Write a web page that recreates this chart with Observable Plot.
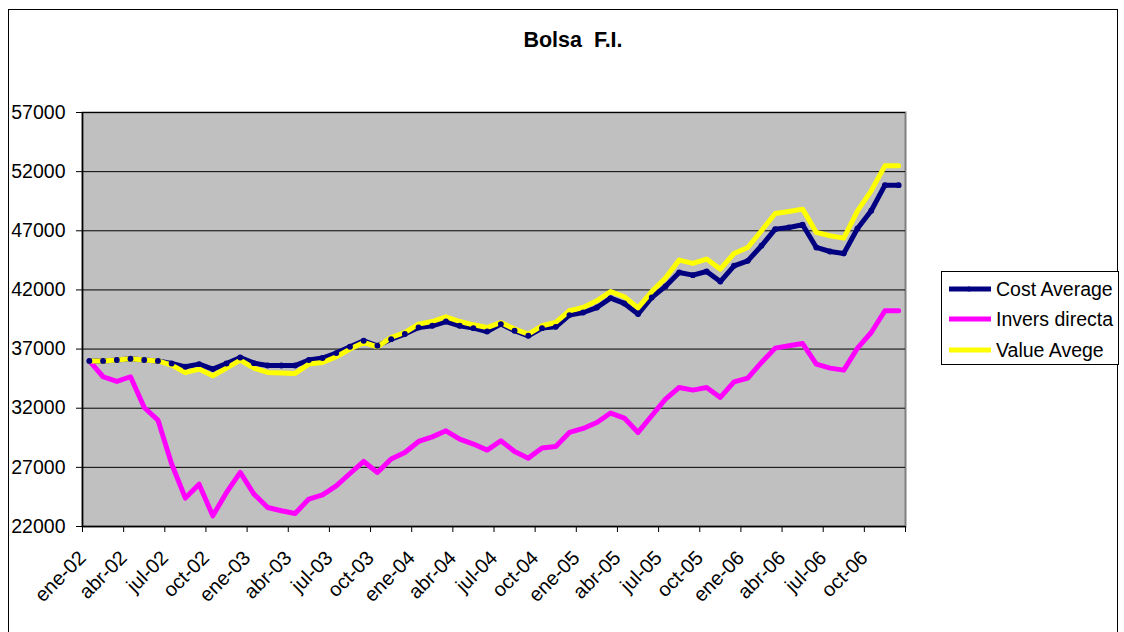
<!DOCTYPE html>
<html>
<head>
<meta charset="utf-8">
<script src="https://cdn.jsdelivr.net/npm/d3@7"></script>
<script src="https://cdn.jsdelivr.net/npm/@observablehq/plot@0.6"></script>
<style>
  html, body { margin: 0; padding: 0; background: #fff; overflow: hidden; }
  body { width: 1124px; height: 632px; position: relative; font-family: "Liberation Sans", Arial, sans-serif; }
  #border { position: absolute; left: 8px; top: 9px; width: 1110px; height: 640px; border: 1px solid #000; box-sizing: border-box; }
  #title { position: absolute; left: 463px; width: 220px; top: 28px; text-align: center; font-weight: bold; font-size: 21.5px; white-space: pre; }
  #chart { position: absolute; left: 0; top: 0; }
  #legend { position: absolute; left: 941px; top: 271px; width: 178px; height: 94px; border: 1px solid #000; box-sizing: border-box; background: #fff; font-size: 19.5px; }
  .row { position: absolute; left: 5px; height: 24px; display: flex; align-items: center; white-space: nowrap; }
  .row svg { margin-right: 3px; }
</style>
</head>
<body>
<div id="border"></div>
<div id="chart"></div>
<div id="title">Bolsa  F.I.</div>
<div id="legend"></div>
<script>
const monthNames = ["ene","feb","mar","abr","may","jun","jul","ago","sep","oct","nov","dic"];
const years = ["02","03","04","05","06"];
const months = years.flatMap(y => monthNames.map(m => `${m}-${y}`));

const costAverage = [36000,36000,36070,36180,36070,36000,35780,35500,35730,35310,35780,36290,
  35810,35610,35610,35610,36070,36240,36660,37190,37700,37280,37840,38270,
  38820,38970,39330,38970,38770,38490,39110,38550,38120,38770,38880,39870,
  40090,40510,41310,40860,39960,41360,42300,43470,43250,43560,42710,44040,
  44460,45730,47140,47280,47510,45590,45250,45080,47190,48690,50860,50860];

const inversDirecta = [36000,34660,34260,34660,32060,31000,27280,24400,25580,22900,24880,26570,
  24740,23610,23330,23100,24320,24680,25440,26480,27500,26570,27700,28260,
  29190,29580,30090,29390,28970,28460,29250,28340,27780,28630,28760,29950,
  30290,30790,31590,31170,29950,31360,32770,33750,33530,33750,32910,34230,
  34550,35870,37080,37280,37470,35730,35390,35220,37080,38400,40240,40240];

const valueAvege = [36000,36000,36070,36180,36070,36000,35640,35020,35310,34740,35390,36070,
  35390,35020,34970,34940,35730,35870,36350,37000,37560,37190,37980,38400,
  39110,39330,39730,39330,39050,38820,39250,38690,38270,38970,39250,40240,
  40510,41080,41870,41420,40480,41860,43000,44520,44240,44610,43760,45080,
  45590,47000,48460,48630,48830,46860,46580,46380,48690,50380,52490,52490];

const yTicks = [22000,27000,32000,37000,42000,47000,52000,57000];

const seriesNames = ["Cost Average","Invers directa","Value Avege"];
const seriesColors = ["#000080","#FF00FF","#FFFF00"];

const rows = (vals) => vals.map((v, i) => ({i, v}));
const cost = rows(costAverage), inv = rows(inversDirecta), val = rows(valueAvege);
const n = months.length;
const xTicks = d3.range(0, n / 3 + 1).map(k => -0.5 + 3 * k);

const chart = Plot.plot({
  width: 1124,
  height: 632,
  marginLeft: 82,
  marginRight: 219,
  marginTop: 112,
  marginBottom: 106,
  style: {fontFamily: "'Liberation Sans', Arial, sans-serif", fontSize: "19px", background: "transparent", color: "#000"},
  x: {domain: [-0.5, n - 0.5], axis: null},
  y: {domain: [22000, 57000], axis: null},
  marks: [
    Plot.frame({fill: "#C0C0C0", stroke: "#808080", strokeWidth: 2}),
    Plot.gridY(yTicks, {stroke: "#000", strokeOpacity: 1, strokeWidth: 1}),
    Plot.ruleX([-0.5], {stroke: "#000", strokeWidth: 1.5}),
    Plot.ruleY([22000], {stroke: "#000", strokeWidth: 1.5}),
    Plot.axisY({ticks: yTicks, tickFormat: d => String(d), tickSize: 6, tickPadding: 11, fontSize: 19.5, label: null}),
    Plot.axisX({ticks: xTicks, tickSize: 6, tickPadding: 22, tickRotate: -45, fontSize: 20, label: null,
      tickFormat: d => { const k = Math.round(d + 0.5); return k < n ? months[k] : ""; }}),
    Plot.line(cost, {x: "i", y: "v", stroke: seriesColors[0], strokeWidth: 5}),
    Plot.line(inv, {x: "i", y: "v", stroke: seriesColors[1], strokeWidth: 5}),
    Plot.line(val, {x: "i", y: "v", stroke: seriesColors[2], strokeWidth: 5}),
    Plot.dot(cost, {x: "i", y: "v", r: 2.2, fill: seriesColors[0], stroke: seriesColors[0]})
  ]
});
document.getElementById("chart").appendChild(chart);

const legend = document.getElementById("legend");
const rowTops = [5, 35, 66];
seriesNames.forEach((name, k) => {
  const row = document.createElement("div");
  row.className = "row";
  row.style.top = rowTops[k] + "px";
  const marker = k === 0 ? `<circle cx="22" cy="7" r="2.5" fill="${seriesColors[0]}"/>` : "";
  row.innerHTML = `<svg width="46" height="14"><line x1="2" x2="44" y1="7" y2="7" stroke="${seriesColors[k]}" stroke-width="5"/>${marker}</svg><span>${name}</span>`;
  legend.appendChild(row);
});
</script>
</body>
</html>
